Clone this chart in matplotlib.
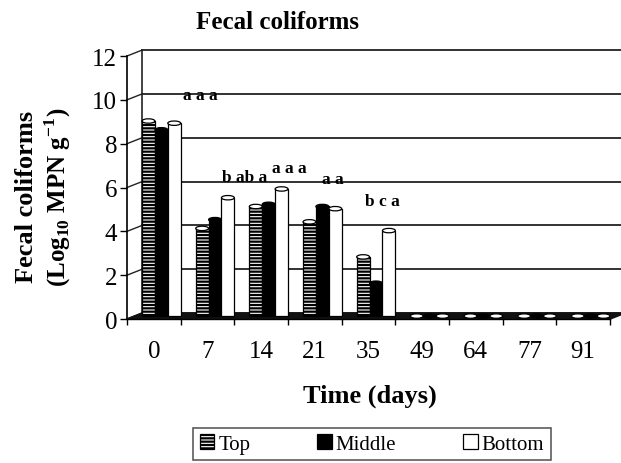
import matplotlib
matplotlib.use('Agg')
import matplotlib.pyplot as plt
from matplotlib.patches import Ellipse, Polygon

plt.rcParams['font.family'] = 'Liberation Serif'
plt.rcParams['mathtext.fontset'] = 'custom'
plt.rcParams['mathtext.rm'] = 'Liberation Serif'
plt.rcParams['mathtext.bf'] = 'Liberation Serif:bold'
plt.rcParams['hatch.linewidth'] = 1.6

# data
days = ['0', '7', '14', '21', '35', '49', '64', '77', '91']
top = [8.9, 4.0, 5.0, 4.3, 2.7, 0, 0, 0, 0]
middle = [8.5, 4.4, 5.1, 5.0, 1.5, 0, 0, 0, 0]
bottom = [8.8, 5.4, 5.8, 4.9, 3.9, 0, 0, 0, 0]
letters = ['a a a', 'b ab a', 'a a a', 'a a', 'b c a']

# where the letters sit (layout, not data)
letter_xy = [(0.86, 10.2), (1.70, 6.5), (2.52, 6.9), (3.34, 6.4), (4.25, 5.4)]

# fake 3d depth in data units
dx, dy = 0.28, 0.27
bw = 0.24

fig = plt.figure(figsize=(6.21, 4.64), dpi=100)
ax = fig.add_axes([0.2045, 0.3103, 0.7778, 0.5668])
ax.set_xlim(-0.5, 8.5)
ax.set_ylim(0, 12)
for s in ['top', 'right']:
    ax.spines[s].set_visible(False)
ax.spines['left'].set_linewidth(1.2)
ax.spines['bottom'].set_linewidth(1.0)

# back wall + grid
n = len(days)
for y in range(0, 13, 2):
    ax.plot([-0.5 + dx, n - 0.5 + dx + 0.3], [y + dy, y + dy], color='#222222', lw=1.3,
            clip_on=False, zorder=1)
    ax.plot([-0.5, -0.5 + dx], [y, y + dy], color='#222222', lw=1.0, clip_on=False, zorder=1)
ax.plot([-0.5 + dx, -0.5 + dx], [dy, 12 + dy], color='#222222', lw=1.2, clip_on=False, zorder=1)

# floor
floor = Polygon([(-0.5, 0), (n - 0.5, 0), (n - 0.5 + dx, dy), (-0.5 + dx, dy)],
                closed=True, facecolor='#111111', edgecolor='#111111', lw=1.2,
                clip_on=False, zorder=2)
ax.add_patch(floor)

base = dy / 2
xs = [i + dx / 2 for i in range(n)]
series = [
    (top, -bw, dict(facecolor='white', edgecolor='black', hatch='-----'), 'white', 'Top'),
    (middle, 0, dict(facecolor='black', edgecolor='black'), 'black', 'Middle'),
    (bottom, bw, dict(facecolor='white', edgecolor='black'), 'white', 'Bottom'),
]
eh = 0.2
for k, (vals, off, style, capc, name) in enumerate(series):
    pos = [x + off for x in xs]
    ax.bar(pos, vals, width=bw, bottom=base, lw=0.9, zorder=3 + k * 0.1, label=name, **style)
    for p, v in zip(pos, vals):
        ax.add_patch(Ellipse((p, base + v), bw, eh, facecolor=capc, edgecolor='black',
                             lw=0.9, zorder=3.05 + k * 0.1))

for s, (x, y) in zip(letters, letter_xy):
    ax.text(x, y, s, ha='center', va='center', fontsize=12.5, fontweight='bold')

ax.set_yticks(range(0, 13, 2))
ax.tick_params(axis='y', direction='out', length=5, width=1, labelsize=18, pad=2)
ax.set_xticks(range(n))
ax.set_xticklabels(days)
ax.tick_params(axis='x', length=0, labelsize=18, pad=15)
ax.set_xticks([i - 0.5 for i in range(n + 1)], minor=True)
ax.tick_params(axis='x', which='minor', direction='out', length=4, width=1)

fig.text(0.447, 0.952, 'Fecal coliforms', ha='center', va='center', fontsize=18,
         fontweight='bold')
fig.text(0.596, 0.145, 'Time (days)', ha='center', va='center', fontsize=19,
         fontweight='bold')
fig.text(0.042, 0.575, 'Fecal coliforms', ha='center', va='center', rotation=90,
         fontsize=19, fontweight='bold')
fig.text(0.093, 0.575, r'(Log$_{\mathbf{10}}$ MPN g$^{\mathbf{-1}}$)', ha='center',
         va='center', rotation=90, fontsize=18, fontweight='bold')

leg = fig.legend(loc='center', bbox_to_anchor=(0.599, 0.041), ncol=3, fontsize=15,
                 frameon=True, fancybox=False, handlelength=0.7, handleheight=0.7,
                 handletextpad=0.2, columnspacing=3.2, borderpad=0.3)
leg.get_frame().set_edgecolor('#333333')
leg.get_frame().set_linewidth(1.2)

fig.savefig('out.png', dpi=100)
